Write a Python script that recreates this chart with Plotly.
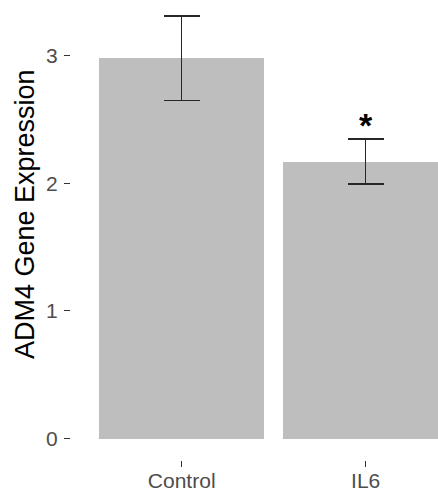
import plotly.graph_objects as go

categories = ["Control", "IL6"]
means = [2.98, 2.17]
errors = [0.33, 0.175]
significance = ["", "*"]
y_ticks = [0, 1, 2, 3]
y_title = "ADM4 Gene Expression"

FONT = "Liberation Sans, Arial, Helvetica, sans-serif"

fig = go.Figure()
fig.add_trace(go.Bar(
    x=categories,
    y=means,
    width=0.9,
    marker=dict(color="#BEBEBE", line=dict(width=0)),
    error_y=dict(type="data", array=errors, visible=True,
                 color="#262626", thickness=1.4, width=18),
    showlegend=False,
    hoverinfo="skip",
))

for cat, m, e, s in zip(categories, means, errors, significance):
    if s:
        fig.add_annotation(
            x=cat, y=m + e, text="<b>" + s + "</b>", showarrow=False,
            yanchor="bottom", yshift=-7,
            font=dict(family=FONT, size=34, color="black"),
        )

# y-axis title (placed as rotated text, as in the reference)
fig.add_annotation(
    xref="paper", yref="paper", x=-0.1253, y=0.5348,
    text=y_title, textangle=-90, showarrow=False,
    xanchor="center", yanchor="middle",
    font=dict(family=FONT, size=27, color="black"),
)

fig.update_layout(
    width=438, height=496,
    margin=dict(l=71, r=0, t=0, b=36, autoexpand=False),
    paper_bgcolor="white", plot_bgcolor="white",
    font=dict(family=FONT),
    bargap=0,
)
fig.update_xaxes(
    type="category",
    range=[-0.6016, 1.393],
    showgrid=False, zeroline=False, showline=False,
    ticks="outside", ticklen=6, tickwidth=1.4, tickcolor="#333333",
    tickfont=dict(size=21, color="#4D4D4D"),
    ticklabelstandoff=-4,
    fixedrange=True,
)
fig.update_yaxes(
    range=[-0.168, 3.435],
    tickvals=y_ticks,
    showgrid=False, zeroline=False, showline=False,
    ticks="outside", ticklen=6, tickwidth=1.4, tickcolor="#333333",
    tickfont=dict(size=21, color="#4D4D4D"),
    ticklabelstandoff=2,
    fixedrange=True,
)

fig.write_html(
    "out.html",
    config={"displayModeBar": False},
    post_script="document.body.style.margin='0';document.body.style.overflow='hidden';",
)
